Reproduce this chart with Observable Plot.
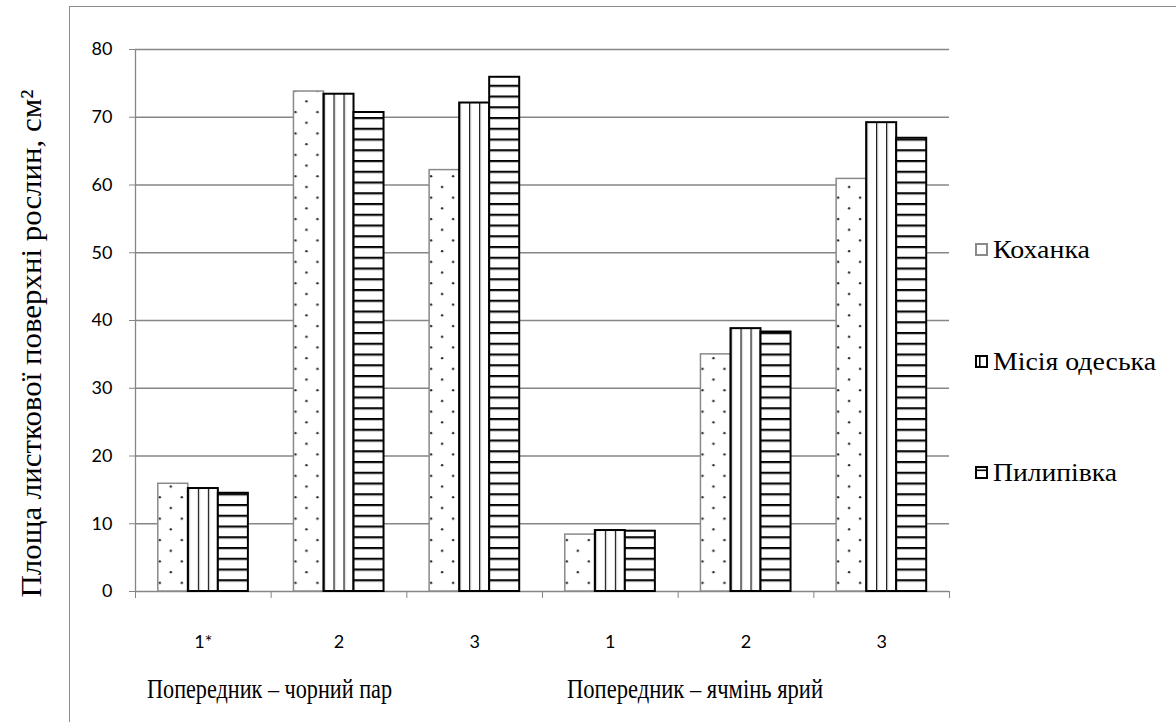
<!DOCTYPE html>
<html>
<head>
<meta charset="utf-8">
<script src="https://cdn.jsdelivr.net/npm/d3@7"></script>
<script src="https://cdn.jsdelivr.net/npm/@observablehq/plot@0.6"></script>
<style>
  body { margin: 0; background: #fff; }
  #wrap { position: relative; width: 1176px; height: 722px; overflow: hidden; background: #fff; }
  #frame { position: absolute; left: 69px; top: 6px; width: 1200px; height: 800px;
           border-left: 1.5px solid #8c8c8c; border-top: 1.5px solid #8c8c8c; }
  .layer { position: absolute; left: 0; top: 0; }
  .serif { font-family: "Liberation Serif", "Times New Roman", "DejaVu Serif", serif; color: #000; }
  .legend { position: absolute; left: 975px; top: 0; font-size: 25px; }
  .legend .item { position: absolute; left: 0; display: flex; align-items: center; white-space: nowrap; transform: translateY(-50%); }
  .legend svg { margin-right: 4px; flex: none; }
  .legend span { display: inline-block; transform-origin: 0 50%; }
  .cap { position: absolute; font-size: 27px; white-space: nowrap; line-height: 1; }
  .cap span { display: inline-block; transform-origin: 0 50%; }
</style>
</head>
<body>
<div id="wrap">
  <div id="frame"></div>
  <svg width="0" height="0" style="position:absolute">
    <defs>
      <pattern id="pDots" patternUnits="userSpaceOnUse" width="22" height="21.4">
        <rect width="22" height="21.4" fill="#fff"/>
        <circle cx="5" cy="5" r="1.2" fill="#222"/>
        <circle cx="16" cy="15.7" r="1.2" fill="#222"/>
      </pattern>
      <pattern id="pVert" patternUnits="objectBoundingBox" width="0.33333" height="1">
        <rect x="0" y="0" width="40" height="800" fill="#fff"/>
        <rect x="-1" y="0" width="2" height="800" fill="#000"/>
        <rect x="1" y="0" width="1" height="800" fill="#bbb"/>
      </pattern>
      <pattern id="pHoriz" patternUnits="userSpaceOnUse" width="10" height="10.75">
        <rect width="10" height="10.75" fill="#fff"/>
        <rect x="0" y="0" width="10" height="1.9" fill="#000"/>
        <rect x="0" y="1.9" width="10" height="1" fill="#bbb"/>
      </pattern>
    </defs>
  </svg>
</div>
<script>
// ---------------- data ----------------
const groupKeys = [0, 1, 2, 3, 4, 5];
const tickLabels = ["1*", "2", "3", "1", "2", "3"];
const captions = ["Попередник – чорний пар", "Попередник – ячмінь ярий"];
const seriesNames = ["Коханка", "Місія одеська", "Пилипівка"];
const kokhanka  = [15.9, 73.8, 62.2, 8.4, 35.0, 60.9];
const misia     = [15.2, 73.4, 72.1, 9.0, 38.8, 69.2];
const pylypivka = [14.5, 70.7, 75.9, 8.9, 38.3, 66.9];
const yTicks = [0, 10, 20, 30, 40, 50, 60, 70, 80];
const yTitle = "Площа листкової поверхні рослин, см²";

// ---------------- layout ----------------
const W = 1176, H = 722;
const M = {left: 135, right: 227, top: 49, bottom: 131};
const gray = "#868686";
const serif = "'Liberation Serif', 'Times New Roman', 'DejaVu Serif', serif";
const sans = "Lato, 'Open Sans', sans-serif";

const seriesValues = [kokhanka, misia, pylypivka];
const seriesStyle = [
  {fill: "url(#pDots)", stroke: "#8a8a8a", strokeWidth: 1.5},
  {fill: "url(#pVert)", stroke: "#000", strokeWidth: 2},
  {fill: "url(#pHoriz)", stroke: "#000", strokeWidth: 2}
];
const rows = seriesValues.flatMap((vals, s) =>
  vals.map((v, g) => ({g: groupKeys[g], series: seriesNames[s], value: v})));

const wrap = document.getElementById("wrap");

// back layer: grid, axes, axis title
const back = Plot.plot({
  width: W, height: H,
  marginLeft: M.left, marginRight: M.right, marginTop: M.top, marginBottom: M.bottom,
  x: {domain: [0, groupKeys.length], axis: null},
  y: {domain: [0, 80], axis: null},
  style: {fontFamily: sans, fontSize: "18px", color: "#000", background: "transparent"},
  marks: [
    Plot.ruleY(yTicks, {stroke: gray, strokeWidth: 1.3}),
    Plot.ruleX([0], {y1: 0, y2: 80, stroke: gray, strokeWidth: 1.3}),
    Plot.axisY(yTicks, {tickSize: 6, tickPadding: 17, stroke: gray, fill: "#000", fontSize: 18, fontFamily: sans, label: null}),
    Plot.axisX(d3.range(groupKeys.length + 1), {tickSize: 7, stroke: gray, tickFormat: () => "", label: null}),
    Plot.axisX(groupKeys.map(g => g + 0.5), {tickSize: 0, tickPadding: 44, fill: "#000",
      tickFormat: d => tickLabels[Math.floor(d)], fontSize: 18, fontFamily: sans, label: null}),
    Plot.text([yTitle], {frameAnchor: "left", textAnchor: "middle", rotate: -90, dx: -104, dy: 23,
      fontFamily: serif, fontSize: 30, fill: "#000", className: "ytitle"})
  ]
});
back.classList.add("layer");
wrap.appendChild(back);
const yt = back.querySelector(".ytitle text") || back.querySelector("g[aria-label=text] text");
if (yt) { yt.setAttribute("textLength", 508); yt.setAttribute("lengthAdjust", "spacingAndGlyphs"); }

// front layer: bars (faceted by group)
const front = Plot.plot({
  width: W, height: H,
  marginLeft: M.left, marginRight: M.right, marginTop: M.top, marginBottom: M.bottom,
  fx: {domain: groupKeys, paddingInner: 0.336, paddingOuter: 0.168, axis: null, round: false, label: null},
  x: {domain: seriesNames, padding: 0, axis: null, round: false},
  y: {domain: [0, 80], axis: null},
  style: {background: "transparent"},
  marks: seriesNames.map((s, i) =>
    Plot.barY(rows.filter(d => d.series === s), {
      fx: "g", x: "series", y: "value", ...seriesStyle[i]
    }))
});
front.classList.add("layer");
wrap.appendChild(front);

// align horizontal stripes with the baseline
const y0 = front.scale("y").apply(0);
document.getElementById("pHoriz").setAttribute("y", y0 - 1);

function fitWidth(span, target) {
  const w = span.getBoundingClientRect().width;
  if (w > 0) span.style.transform = `scaleX(${target / w})`;
}

// captions below the axis
const capLeft = [147, 567], capWidth = [245, 256];
captions.forEach((c, i) => {
  const d = document.createElement("div");
  d.className = "cap serif";
  d.style.left = capLeft[i] + "px";
  d.style.top = "676px";
  const sp = document.createElement("span");
  sp.textContent = c;
  d.appendChild(sp);
  wrap.appendChild(d);
  fitWidth(sp, capWidth[i]);
});

// legend
const legend = document.createElement("div");
legend.className = "legend serif";
const legendY = [250, 362, 473];
const legendW = [97, 163, 124];
const swatches = [
  `<rect x="1" y="1" width="11" height="11" fill="#fff" stroke="#8a8a8a" stroke-width="2"/>`,
  `<rect x="1" y="1" width="11" height="11" fill="#fff" stroke="#000" stroke-width="2"/><rect x="4" y="1" width="1.6" height="11" fill="#000"/>`,
  `<rect x="1" y="1" width="11" height="11" fill="#fff" stroke="#000" stroke-width="2"/><rect x="1" y="3.5" width="11" height="1.6" fill="#000"/>`
];
wrap.appendChild(legend);
seriesNames.forEach((s, i) => {
  const it = document.createElement("div");
  it.className = "item";
  it.style.top = legendY[i] + "px";
  it.innerHTML = `<svg width="14" height="14">${swatches[i]}</svg><span>${s}</span>`;
  legend.appendChild(it);
  fitWidth(it.querySelector("span"), legendW[i]);
});
</script>
</body>
</html>
